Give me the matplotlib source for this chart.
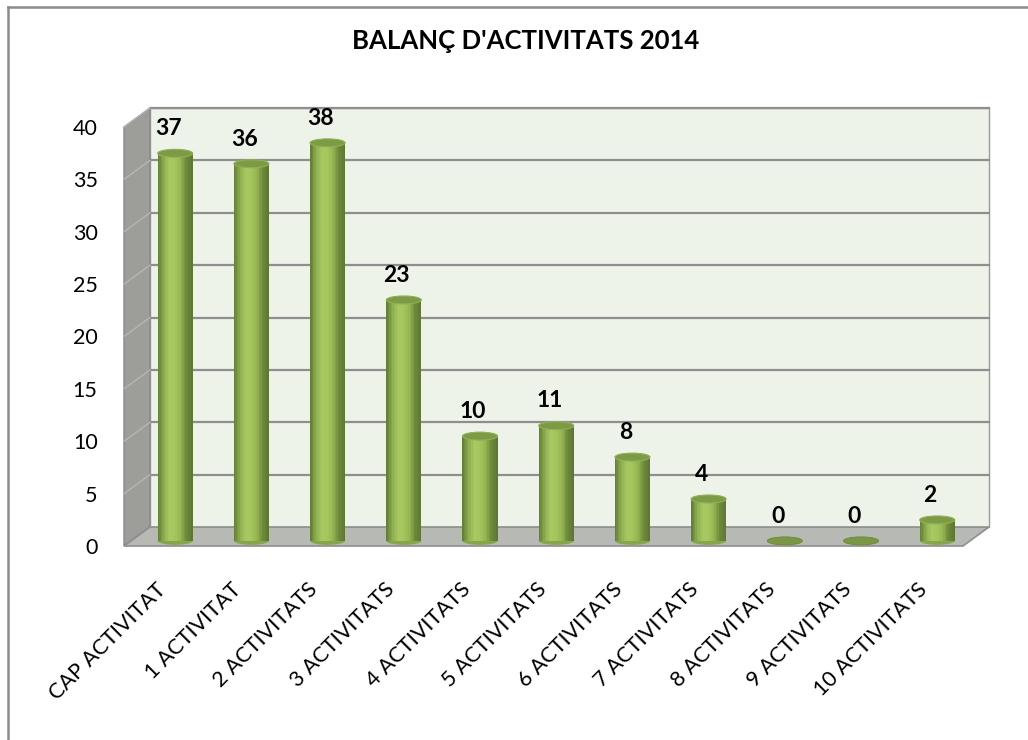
import numpy as np
import matplotlib
matplotlib.use("Agg")
import matplotlib.pyplot as plt
from matplotlib.patches import Polygon, Rectangle, Ellipse
from matplotlib.lines import Line2D
from matplotlib.colors import LinearSegmentedColormap

plt.rcParams['font.family'] = ['Lato', 'DejaVu Sans']

# dades del grafic
categories = ['CAP ACTIVITAT', '1 ACTIVITAT', '2 ACTIVITATS', '3 ACTIVITATS',
              '4 ACTIVITATS', '5 ACTIVITATS', '6 ACTIVITATS', '7 ACTIVITATS',
              '8 ACTIVITATS', '9 ACTIVITATS', '10 ACTIVITATS']
values = [37, 36, 38, 23, 10, 11, 8, 4, 0, 0, 2]
yticks = [0, 5, 10, 15, 20, 25, 30, 35, 40]
title = "BALANÇ D'ACTIVITATS 2014"

W, H = 1028, 740
fig = plt.figure(figsize=(W / 100, H / 100), dpi=100)
fig.patch.set_facecolor('white')

# eixos = pla frontal (en pixels)
left_px, right_px, top_px, bot_px = 124, 963, 127, 546
ax = fig.add_axes([left_px / W, 1 - bot_px / H,
                   (right_px - left_px) / W, (bot_px - top_px) / H])
xmin, xmax = -0.58, 10.43
ax.set_xlim(xmin, xmax)
ax.set_ylim(0, 40)
for s in ax.spines.values():
    s.set_visible(False)
ax.patch.set_visible(False)

# profunditat (obliqua)
DX, DY = 0.34, 1.81

# paret del fons
back = Polygon([(xmin + DX, DY), (xmax + DX, DY), (xmax + DX, 40 + DY),
                (xmin + DX, 40 + DY)], closed=True, facecolor='#eef3ea',
               edgecolor='#9a9a9a', lw=1.0, clip_on=False, zorder=1)
ax.add_patch(back)
# paret lateral
side = Polygon([(xmin, 0), (xmin + DX, DY), (xmin + DX, 40 + DY), (xmin, 40)],
               closed=True, facecolor='#9d9e9a', edgecolor='#8a8a8a', lw=1.0,
               clip_on=False, zorder=1)
ax.add_patch(side)
# linies de graella
for t in yticks[1:]:
    ax.add_line(Line2D([xmin + DX, xmax + DX], [t + DY, t + DY], color='#8e8e8e',
                       lw=1.6, clip_on=False, zorder=2))
    ax.add_line(Line2D([xmin, xmin + DX], [t, t + DY], color='#b5b6b2',
                       lw=1.0, clip_on=False, zorder=2))
# terra
floor = Polygon([(xmin, 0), (xmax, 0), (xmax + DX, DY), (xmin + DX, DY)],
                closed=True, facecolor='#b7b9b4', edgecolor='#8e8e8e', lw=1.2,
                clip_on=False, zorder=2)
ax.add_patch(floor)

# cilindres
shade = LinearSegmentedColormap.from_list(
    'cyl', ['#65803a', '#8fb04f', '#a8c862', '#a4c45e', '#94b552', '#6e8a3c', '#5e7832'])
depth = 0.27
rx = 0.23
ry = 0.38
nstrip = 24
for i, v in enumerate(values):
    cx = i + depth * DX
    base = depth * DY
    if v == 0:
        ax.add_patch(Ellipse((cx, base), 2 * rx, 2 * ry, facecolor='#7a9843',
                             edgecolor='#6b8739', lw=0.6, zorder=5, clip_on=False))
        continue
    ax.add_patch(Ellipse((cx, base), 2 * rx, 2 * ry, facecolor='#86a64b',
                         edgecolor='none', zorder=4, clip_on=False))
    xs = np.linspace(cx - rx, cx + rx, nstrip + 1)
    for k in range(nstrip):
        ax.add_patch(Rectangle((xs[k], base), xs[k + 1] - xs[k], v,
                               facecolor=shade(k / (nstrip - 1)), edgecolor='none',
                               zorder=5, clip_on=False))
    ax.add_patch(Ellipse((cx, base + v), 2 * rx, 2 * ry, facecolor='#7d9b46',
                         edgecolor='#91b053', lw=0.8, zorder=6, clip_on=False))

# etiquetes de dades
for i, v in enumerate(values):
    ax.annotate(str(v), (i, v), xytext=(0, 21.5), textcoords='offset points',
                ha='center', va='center', fontsize=16.5, fontweight='bold',
                color='black', zorder=8)

# eixos
ax.set_yticks(yticks)
ax.set_yticklabels([str(t) for t in yticks])
ax.tick_params(axis='y', length=0, pad=19, labelsize=15.5)
ax.set_xticks(np.arange(len(categories)) - 0.17)
ax.set_xticklabels(categories)
ax.tick_params(axis='x', length=0, pad=24, labelsize=15.5)
plt.setp(ax.get_xticklabels(), rotation=45, ha='right', va='top',
         rotation_mode='anchor')

fig.text(526 / W, 1 - 41 / H, title, ha='center', va='center',
         fontsize=18.5, fontweight='bold')

# marc
fig.add_artist(Line2D([8 / W, 8 / W], [0, 1 - 7 / H], color='#8c8c8c', lw=1.8))
fig.add_artist(Line2D([8 / W, 1], [1 - 7 / H, 1 - 7 / H], color='#8c8c8c', lw=1.8))

fig.savefig('out.png', dpi=100)
